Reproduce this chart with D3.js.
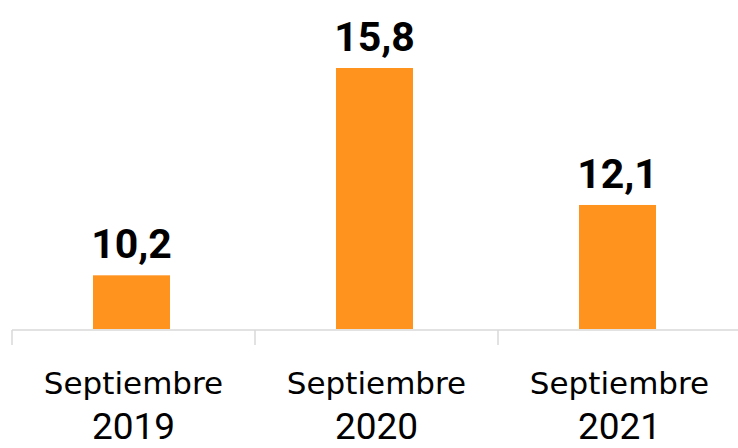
<!DOCTYPE html>
<html>
<head>
<meta charset="utf-8">
<script src="https://cdn.jsdelivr.net/npm/d3@7"></script>
<style>
  body { margin: 0; background: #fff; }
  svg { display: block; }
</style>
</head>
<body>
<div id="chart"></div>
<script>
// data
const months = ["Septiembre", "Septiembre", "Septiembre"];
const years = ["2019", "2020", "2021"];
const values = [10.2, 15.8, 12.1];
const valueLabels = ["10,2", "15,8", "12,1"];

const width = 738, height = 448;
const baseY = 330;

const svg = d3.select("#chart").append("svg")
    .attr("width", width)
    .attr("height", height);

// band per year, last band runs off the right edge like the original
const x = d3.scaleBand()
    .domain(years)
    .range([12, 741])
    .paddingInner(0)
    .paddingOuter(0);

// axis doesn't start at zero in the source chart
const y = d3.scaleLinear()
    .domain([8.75, 15.8])
    .range([baseY - 1, 68]);

const barW = 77;

svg.selectAll(".bar")
    .data(values)
    .enter()
    .append("rect")
    .attr("class", "bar")
    .attr("x", (d, i) => x(years[i]) + x.bandwidth() / 2 - barW / 2 - 2)
    .attr("y", d => y(d))
    .attr("width", barW)
    .attr("height", d => y.range()[0] - y(d))
    .style("fill", "#ff931e");

// axis line + tick marks at band edges
const ticks = years.map(d => x(d)).concat([x.range()[1]]);
svg.append("line")
    .attr("x1", 12).attr("x2", width)
    .attr("y1", baseY).attr("y2", baseY)
    .style("stroke", "#d9d9d9")
    .style("stroke-width", 1.5);
svg.selectAll(".tick")
    .data(ticks)
    .enter()
    .append("line")
    .attr("class", "tick")
    .attr("x1", d => d).attr("x2", d => d)
    .attr("y1", baseY).attr("y2", baseY + 15)
    .style("stroke", "#d9d9d9")
    .style("stroke-width", 1.5);

// value labels
svg.selectAll(".val")
    .data(values)
    .enter()
    .append("text")
    .attr("class", "val")
    .attr("x", (d, i) => x(years[i]) + x.bandwidth() / 2 - 2)
    .attr("y", d => y(d) - 17)
    .attr("text-anchor", "middle")
    .style("font-family", "Roboto, sans-serif")
    .style("font-weight", "bold")
    .style("font-size", "41px")
    .style("fill", "#000")
    .text((d, i) => valueLabels[i]);

// category labels, two lines
svg.selectAll(".month")
    .data(months)
    .enter()
    .append("text")
    .attr("class", "month")
    .attr("x", (d, i) => x(years[i]) + x.bandwidth() / 2)
    .attr("y", 394)
    .attr("text-anchor", "middle")
    .style("font-family", "'DejaVu Sans', sans-serif")
    .style("font-size", "31px")
    .style("fill", "#000")
    .text(d => d);

svg.selectAll(".year")
    .data(years)
    .enter()
    .append("text")
    .attr("class", "year")
    .attr("x", d => x(d) + x.bandwidth() / 2)
    .attr("y", 439)
    .attr("text-anchor", "middle")
    .style("font-family", "Roboto, sans-serif")
    .style("font-size", "37px")
    .style("fill", "#000")
    .text(d => d);
</script>
</body>
</html>
